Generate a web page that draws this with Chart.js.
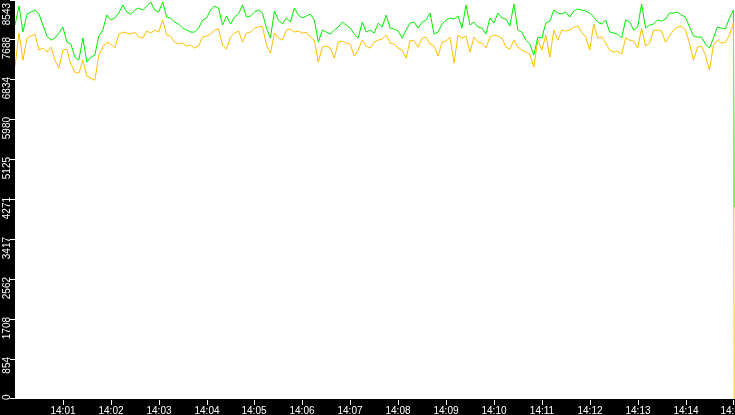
<!DOCTYPE html>
<html>
<head>
<meta charset="utf-8">
<title>Monitor 14:00 - 14:15</title>
<script src="https://cdn.jsdelivr.net/npm/chart.js"></script>
<style>
    html, body { margin: 0; padding: 0; background: #000; }
    #grafico { display: block; }
</style>
</head>
<body>
<canvas id="grafico" width="735" height="415"></canvas>
<script>
// Valores (uma amostra a cada 5 segundos a partir das 14:00:00)
var passoSegundos = 5;

var valoresVerde = [
    8006, 8414, 7856, 8242, 8285, 8328, 8242, 8006, 7770, 7684,
    7727, 7835, 7963, 7641, 7599, 7320, 7255, 7727, 7212, 7320,
    7362, 7770, 7899, 8221, 8114, 8157, 8264, 8436, 8285, 8242,
    8328, 8371, 8328, 8414, 8500, 8328, 8285, 8500, 8178, 8157,
    8071, 8028, 7942, 7899, 7856, 7856, 7942, 8114, 8157, 8328,
    8414, 8371, 8006, 8200, 8028, 8178, 8242, 8436, 8178, 8200,
    8285, 8328, 8264, 7942, 7727, 8307, 8114, 8028, 8157, 8071,
    8371, 8221, 8157, 8200, 8242, 8114, 7641, 7899, 7856, 7813,
    7899, 7963, 8071, 8006, 7942, 7813, 7727, 8071, 7856, 7899,
    7835, 8049, 7963, 8221, 7942, 7921, 7878, 7727, 7899, 8049,
    8071, 7942, 8071, 8114, 8264, 7813, 7856, 8028, 8114, 8157,
    8135, 8200, 7942, 8436, 8006, 8071, 7963, 7942, 7813, 8157,
    8049, 8264, 8157, 8135, 7985, 8457, 7899, 7856, 7684, 7599,
    7362, 7749, 7727, 8049, 8092, 8328, 8264, 8242, 8285, 8178,
    8307, 8350, 8328, 8307, 8264, 8178, 8071, 8028, 8114, 7856,
    7835, 7813, 7727, 8114, 8071, 7899, 7963, 8457, 7942, 8006,
    8028, 8114, 8092, 8135, 8264, 8264, 8285, 8221, 8178, 7963,
    7770, 7749, 7749, 7599, 7513, 7727, 7963, 7942, 7921, 8157,
    8328
];

var valoresLaranja = [
    7126, 7835, 7255, 7727, 7770, 7813, 7470, 7513, 7427, 7534,
    7255, 7083, 7470, 7491, 7169, 6998, 6976, 7255, 6912, 6869,
    6826, 7362, 7534, 7641, 7599, 7513, 7813, 7856, 7835, 7813,
    7856, 7749, 7727, 7878, 7835, 7899, 7856, 8114, 7792, 7770,
    7641, 7599, 7620, 7556, 7577, 7513, 7556, 7749, 7770, 7813,
    7899, 7921, 7577, 7491, 7749, 7835, 7878, 7641, 7835, 7856,
    7942, 7963, 7985, 7577, 7405, 7835, 7727, 7684, 7899, 7921,
    7856, 7878, 7835, 7856, 7749, 7684, 7212, 7534, 7556, 7513,
    7298, 7641, 7663, 7620, 7599, 7341, 7470, 7684, 7556, 7513,
    7641, 7684, 7706, 7792, 7620, 7599, 7513, 7470, 7298, 7684,
    7663, 7534, 7727, 7749, 7599, 7556, 7341, 7641, 7663, 7749,
    7191, 7792, 7727, 7770, 7427, 7749, 7641, 7620, 7513, 7749,
    7792, 7770, 7727, 7534, 7491, 7684, 7534, 7470, 7427, 7384,
    7105, 7684, 7470, 7792, 7320, 7899, 7684, 7899, 7878, 7899,
    7963, 7985, 7856, 7749, 7470, 8028, 7727, 7749, 7620, 7470,
    7427, 7448, 7384, 7727, 7684, 7663, 7513, 7942, 7556, 7620,
    7899, 7899, 7878, 7641, 7770, 7899, 7963, 7985, 7899, 7620,
    7255, 7534, 7556, 7362, 7040, 7577, 7684, 7620, 7641, 7792,
    8049
];

// Último ponto, logo depois das 14:15, quando as séries caem
var segundoFinal = 901;
var finalVerde = 4100;
var finalLaranja = 0;

// Marcas dos eixos
var marcasY = [0, 854, 1708, 2562, 3417, 4271, 5125, 5980, 6834, 7688, 8543];
var marcasX = [60, 120, 180, 240, 300, 360, 420, 480, 540, 600, 660, 720, 780, 840, 900];
var rotulosX = ['14:01', '14:02', '14:03', '14:04', '14:05', '14:06', '14:07', '14:08',
                '14:09', '14:10', '14:11', '14:12', '14:13', '14:14', '14:15'];

var fonte = '10px "Liberation Sans", Arial, sans-serif';

function montarPontos(valores, valorFinal) {
    var pontos = [];
    for (var i = 0; i < valores.length; i++) {
        pontos.push({ x: i * passoSegundos, y: valores[i] });
    }
    pontos.push({ x: segundoFinal, y: valorFinal });
    return pontos;
}

// Fundo preto, área do gráfico branca, e os eixos desenhados na mão
var pluginEixos = {
    id: 'eixos',
    beforeDraw: function (chart) {
        var ctx = chart.ctx;
        var a = chart.chartArea;
        ctx.save();
        ctx.fillStyle = '#000';
        ctx.fillRect(0, 0, chart.width, chart.height);
        ctx.fillStyle = '#fff';
        ctx.fillRect(a.left, a.top, a.right - a.left, a.bottom - a.top);
        ctx.restore();
    },
    afterDraw: function (chart) {
        var ctx = chart.ctx;
        var a = chart.chartArea;
        var escalaX = chart.scales.x;
        var escalaY = chart.scales.y;
        ctx.save();
        ctx.fillStyle = '#fff';
        ctx.font = fonte;

        // eixo Y: risquinho + rótulo girado
        for (var i = 0; i < marcasY.length; i++) {
            var py = Math.floor(escalaY.getPixelForValue(marcasY[i]));
            ctx.fillRect(a.left - 5, Math.min(py, a.bottom - 1), 5, 1);

            var texto = String(marcasY[i]);
            var w = ctx.measureText(texto).width;
            var topo = py - 2;
            if (topo < 3) topo = 3;
            if (topo + w > a.bottom + 1) topo = a.bottom + 1 - w;

            ctx.save();
            ctx.translate(a.left - 5, topo + w);
            ctx.rotate(-Math.PI / 2);
            ctx.textAlign = 'left';
            ctx.textBaseline = 'alphabetic';
            ctx.fillText(texto, 0, 0);
            ctx.restore();
        }

        // eixo X: risquinho + hora
        ctx.textAlign = 'center';
        ctx.textBaseline = 'alphabetic';
        for (var j = 0; j < marcasX.length; j++) {
            var px = Math.round(escalaX.getPixelForValue(marcasX[j]));
            ctx.fillRect(px, a.bottom + 1, 1, 5);
            ctx.fillText(rotulosX[j], px, a.bottom + 15);
        }
        ctx.restore();
    }
};

new Chart(document.getElementById('grafico'), {
    type: 'line',
    data: {
        datasets: [
            {
                label: 'laranja',
                data: montarPontos(valoresLaranja, finalLaranja),
                borderColor: '#ffbf00',
                borderWidth: 1,
                pointRadius: 0,
                tension: 0,
                fill: false
            },
            {
                label: 'verde',
                data: montarPontos(valoresVerde, finalVerde),
                borderColor: '#00f000',
                borderWidth: 1,
                pointRadius: 0,
                tension: 0,
                fill: false
            }
        ]
    },
    options: {
        responsive: false,
        animation: false,
        devicePixelRatio: 1,
        layout: { padding: { left: 15, right: 0, top: 0, bottom: 16 } },
        plugins: {
            legend: { display: false },
            tooltip: { enabled: false }
        },
        scales: {
            x: { type: 'linear', min: 0, max: 902, display: false },
            y: { type: 'linear', min: 0, max: 8543, display: false }
        }
    },
    plugins: [pluginEixos]
});
</script>
</body>
</html>
